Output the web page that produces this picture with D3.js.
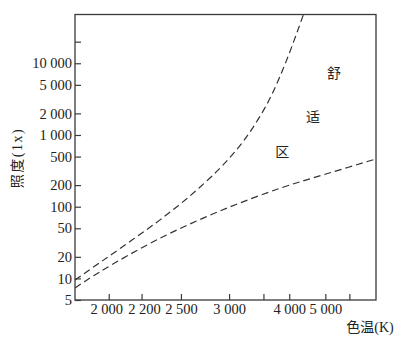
<!DOCTYPE html>
<html><head><meta charset="utf-8">
<script src="https://cdn.jsdelivr.net/npm/d3@7"></script>
<style>body{margin:0;background:#fff}svg{display:block}</style></head>
<body>
<svg id="c" width="420" height="351"></svg>
<script>
// Upper boundary of comfort zone (color temperature K, illuminance lx)
const upperT   = [1829, 1953, 2125, 2331, 2581, 2869, 3103, 3317, 3615, 3951, 4338];
const upperLux = [9.5, 16.7, 32.7, 65.5, 141.5, 324, 634, 1216, 3245, 11400, 47200];
// Lower boundary
const lowerT   = [1829, 1953, 2331, 2890, 3810, 5170, 7700];
const lowerLux = [7.35, 12.4, 36.3, 87.1, 181, 297, 463];

const xTicks = [2000, 2200, 2500, 3000, 3500, 4000, 5000, 6000];
const xTickLabels = ["2 000", "2 200", "2 500", "3 000", "", "4 000", "5 000", ""];
const yTicks = [5, 10, 20, 50, 100, 200, 500, 1000, 2000, 5000, 10000, 20000];
const yTickLabels = ["5", "10", "20", "50", "100", "200", "500", "1 000", "2 000", "5 000", "10 000", ""];

const regionChars = ["舒", "适", "区"];
const regionT = [5320, 4610, 3850];
const regionLux = [7300, 1780, 561];

const xTitle = "色温(K)";
const yTitle = "照度(1x)";

const L = 75, R = 376, T = 14.5, B = 300;
const FONT = "'Liberation Serif','Noto Sans CJK SC',serif";
const INK = "#3a3a3a";

const svg = d3.select("#c");
svg.append("rect").attr("width", 420).attr("height", 351).attr("fill", "#fff");

const x = d3.scalePow().exponent(-1).domain([1829, 7704]).range([L, R]);
const y = d3.scaleLog().domain([5, 47860]).range([B, T]);

svg.append("defs").append("clipPath").attr("id", "clip")
  .append("rect").attr("x", L).attr("y", T).attr("width", R - L).attr("height", B - T);

// Axes (inward ticks)
const xAxis = d3.axisBottom(x).tickValues(xTicks)
  .tickFormat((d, i) => xTickLabels[i]).tickSize(-6).tickPadding(4);
const gx = svg.append("g").attr("transform", `translate(0,${B})`).call(xAxis);
const yAxis = d3.axisLeft(y).tickValues(yTicks)
  .tickFormat((d, i) => yTickLabels[i]).tickSize(-6).tickPadding(3);
const gy = svg.append("g").attr("transform", `translate(${L},0)`).call(yAxis);
[gx, gy].forEach(g => {
  g.select(".domain").remove();
  g.selectAll(".tick line").attr("stroke", INK).attr("stroke-width", 1.2);
  g.selectAll(".tick text").attr("fill", "#222").style("font-family", FONT).style("font-size", "14.5px");
});
// the first two x labels sit a little apart in the original
gx.selectAll(".tick text").attr("dx", d => d === 2000 ? -2.5 : d === 2200 ? 2.5 : 0);

// Frame
svg.append("rect").attr("x", L).attr("y", T).attr("width", R - L).attr("height", B - T)
  .attr("fill", "none").attr("stroke", INK).attr("stroke-width", 1.3);

// Curves
const line = d3.line().x(d => x(d[0])).y(d => y(d[1])).curve(d3.curveCatmullRom.alpha(0.5));
const curves = [d3.zip(upperT, upperLux), d3.zip(lowerT, lowerLux)];
svg.append("g").attr("clip-path", "url(#clip)").selectAll("path").data(curves).join("path")
  .attr("d", line).attr("fill", "none").attr("stroke", "#333")
  .attr("stroke-width", 1.2).attr("stroke-dasharray", "7,4");

// Region annotation
svg.append("g").selectAll("text").data(regionChars).join("text")
  .attr("x", (d, i) => x(regionT[i])).attr("y", (d, i) => y(regionLux[i]))
  .attr("text-anchor", "middle").attr("dominant-baseline", "central")
  .style("font-family", FONT).style("font-size", "14px").attr("fill", "#222")
  .text(d => d);

// Titles
svg.append("text").attr("transform", "translate(17,158) rotate(-90)")
  .attr("text-anchor", "middle").attr("dominant-baseline", "central")
  .style("font-family", FONT).style("font-size", "14px").style("letter-spacing", "1.5px")
  .attr("fill", "#222").text(yTitle);
svg.append("text").attr("x", 370).attr("y", 332).attr("text-anchor", "middle")
  .style("font-family", FONT).style("font-size", "14px").attr("fill", "#222").text(xTitle);
</script>
</body></html>
